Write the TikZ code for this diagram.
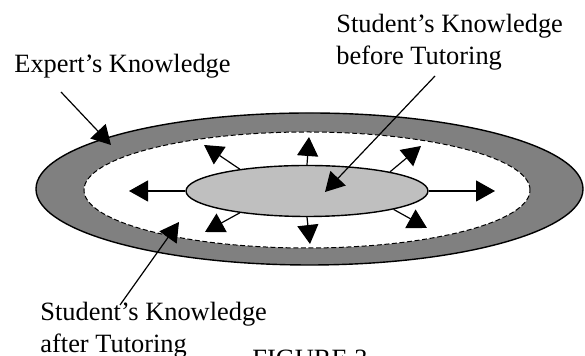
\documentclass[tikz,border=0pt]{standalone}
\usepackage{fontspec}
\setmainfont{Liberation Serif}
\usetikzlibrary{shapes.geometric,arrows.meta}
\definecolor{bandgray}{gray}{0.5}
\definecolor{coregray}{gray}{0.75}

\begin{document}
\begin{tikzpicture}[x=0.5pt,y=-0.5pt]
        \tikzstyle{every node} = [inner sep=0pt, font=\fontsize{13.2pt}{16pt}\selectfont]
        \tikzstyle{region} = [ellipse, draw, line width=0.7pt]
        \tikzstyle{bigarrow} = [-{Triangle[length=9.5pt,width=10.5pt]}, line width=0.6pt]
        \useasboundingbox (0,0) rectangle (585,356);

        % the three knowledge regions
        \node[region, fill=bandgray, minimum width=273.5pt, minimum height=76pt] (expertK) at (309.5,189) {};
        \node[region, fill=white, line width=0.5pt, dash pattern=on 2.5pt off 1.3pt,
              minimum width=223pt, minimum height=58pt] (afterK) at (307,190) {};
        \node[region, fill=coregray, minimum width=121pt, minimum height=25.5pt] (beforeK) at (307,191) {};

        % growth of the student's knowledge
        \foreach \a/\x/\y [count=\i] in {180/129/191, 0/495/191, 90/309/137, 270/310/244,
                                         162/204/145, 13/421/146, 198/205/232, 348/427/228}
          {
            \coordinate (tip\i) at (\x,\y);
            \draw[bigarrow] (beforeK.\a) -- (tip\i);
          }

        % labels
        \node[anchor=base west] (expert) at (14,73) {Expert’s Knowledge};
        \node[anchor=north west, align=left] (before) at (336,14) {Student’s Knowledge\\before Tutoring};
        \node[anchor=north west, align=left] (after) at (40,302) {Student’s Knowledge\\after Tutoring};
        \node[anchor=base west] (caption) at (252,368) {FIGURE 3};

        \coordinate (eTail) at (61,92);   \coordinate (eTip) at (111,145);
        \coordinate (bTail) at (435,76);  \coordinate (bTip) at (325,192);
        \coordinate (aTail) at (120,305); \coordinate (aTip) at (179,222);
        \foreach \from/\to in {eTail/eTip, bTail/bTip, aTail/aTip}
            \draw[bigarrow] (\from) -- (\to);
\end{tikzpicture}
\end{document}
